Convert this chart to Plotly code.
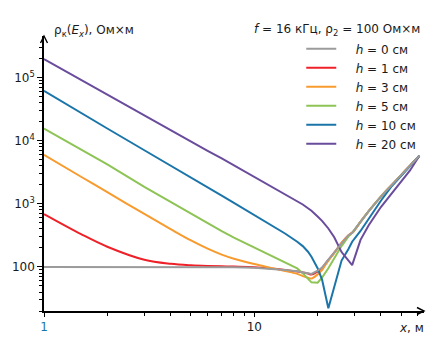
import plotly.graph_objects as go

# distance x, m
x_m = [1, 1.5, 2, 3, 4, 5, 6, 7, 8, 10, 12, 14, 16, 17, 18, 18.7, 20, 21, 22.5,
       24, 26, 28, 29.2, 32, 35, 40, 45, 50, 55, 61]

# apparent resistivity, Ohm*m
rho_h0 = [100, 100, 100, 100, 100, 100, 100, 99.5, 98.9, 96.6, 93.3, 89.1, 85.1, 82.2,
          79.4, 77.6, 87.1, 97.7, 130, 168, 240, 316, 347, 519, 769, 1306, 1986, 2877,
          4046, 5800]
rho_h1 = [687, 331, 209, 130, 112, 106, 103.5, 102.3, 101.2, 98.9, 94.4, 89.5, 84.7,
          81.7, 78.5, 75.9, 84.1, 96.6, 129, 168, 240, 316, 347, 519, 769, 1306, 1986,
          2877, 4046, 5800]
rho_h3 = [6000, 2692, 1531, 692, 398, 263, 195, 157, 135, 111, 96.6, 86.1, 77.6, 71.6,
          67.6, 65.5, 75.9, 89.1, 126, 166, 240, 316, 347, 519, 769, 1306, 1986, 2877,
          4046, 5800]
rho_h5 = [15670, 7261, 4227, 1862, 1074, 692, 489, 370, 292, 204, 154, 120, 94.6, 79.4,
          66.1, 56.9, 56.2, 67.6, 95.5, 138, 214, 302, 347, 519, 769, 1306, 1986, 2877,
          4046, 5800]
rho_h10 = [62230, 27540, 15670, 7079, 4074, 2630, 1841, 1349, 1035, 661, 457, 339, 251,
           214, 174, 145, 95.5, 63.1, 22.1, 50.1, 126, 191, 251, 372, 589, 1122, 1905,
           2818, 4046, 5800]
rho_h20 = [198000, 92260, 53700, 25120, 14790, 9772, 6918, 5248, 4074, 2692, 1928, 1445,
           1096, 977, 851, 776, 631, 537, 407, 295, 172, 126, 107, 269, 457, 891, 1445,
           2239, 3388, 5800]

series_names = ["<i>h</i> = 0 см", "<i>h</i> = 1 см", "<i>h</i> = 3 см",
                "<i>h</i> = 5 см", "<i>h</i> = 10 см", "<i>h</i> = 20 см"]
series_vals = [rho_h0, rho_h1, rho_h3, rho_h5, rho_h10, rho_h20]
colors = ["#9b9b9b", "#ee2129", "#f89b2e", "#8dc455", "#1b75a9", "#6a4c9c"]
shapes_ = ["linear", "spline", "spline", "linear", "linear", "linear"]

x_tickvals = [1, 10]
x_ticktext = ["<span style='color:#1b75a9'>1</span>", "10"]
y_tickvals = [100, 1000, 10000, 100000]
y_ticktext = ["100", "10<sup>3</sup>", "10<sup>4</sup>", "10<sup>5</sup>"]

FONT = "DejaVu Sans, Verdana, sans-serif"
TXT = "#1a1a1a"

fig = go.Figure()
draw_order = [1, 2, 3, 4, 5, 0]
for i in draw_order:
    fig.add_trace(go.Scatter(
        x=x_m, y=series_vals[i], mode="lines", name="\u2003\u2009" + series_names[i],
        line=dict(color=colors[i], width=2, shape=shapes_[i], smoothing=1.0),
        legendrank=i + 1,
    ))

x_minor = [m * d for d in (1, 10) for m in range(2, 10) if m * d <= 60]
y_minor = [m * d for d in (10, 100, 1000, 10000, 100000) for m in range(2, 10)
           if 20 <= m * d <= 300000]

fig.update_layout(
    width=444, height=346,
    margin=dict(l=34, r=20, t=36, b=35),
    paper_bgcolor="white", plot_bgcolor="white",
    font=dict(family=FONT, size=12, color=TXT),
    showlegend=True,
    legend=dict(x=0.677, y=1.006, xanchor="left", yanchor="top",
                bgcolor="rgba(0,0,0,0)", font=dict(family=FONT, size=12, color=TXT),
                itemwidth=30, tracegroupgap=0),
    xaxis=dict(type="log", range=[0, 1.807], showline=True, linecolor="black",
               linewidth=1.6, mirror=False, showgrid=False, zeroline=False,
               ticks="outside", ticklen=4, tickwidth=1.3, tickcolor="black",
               tickmode="array", tickvals=x_tickvals, ticktext=x_ticktext,
               tickfont=dict(family=FONT, size=12, color=TXT),
               minor=dict(tickmode="array", tickvals=x_minor, ticks="outside",
                          ticklen=3, tickwidth=1, tickcolor="black", showgrid=False)),
    yaxis=dict(type="log", range=[1.301, 5.662], showline=True, linecolor="black",
               linewidth=1.6, showgrid=False, zeroline=False,
               ticks="outside", ticklen=5, tickwidth=1.3, tickcolor="black",
               tickmode="array", tickvals=y_tickvals, ticktext=y_ticktext,
               tickfont=dict(family=FONT, size=12, color=TXT),
               minor=dict(tickmode="array", tickvals=y_minor, ticks="outside",
                          ticklen=3, tickwidth=1, tickcolor="black", showgrid=False)),
)

# axis arrow heads
fig.add_shape(type="path", xref="paper", yref="paper", xsizemode="pixel",
              ysizemode="pixel", xanchor=0, yanchor=1,
              path="M-3.5,-7 L0,0 L3.5,-7", line=dict(color="black", width=1.4))
fig.add_shape(type="path", xref="paper", yref="paper", xsizemode="pixel",
              ysizemode="pixel", xanchor=1, yanchor=0,
              path="M-7,3.5 L0,0 L-7,-3.5", line=dict(color="black", width=1.4))

fig.add_annotation(xref="paper", yref="paper", x=0.0205, y=1.017, xanchor="left",
                   yanchor="middle", showarrow=False,
                   text="ρ<sub>к</sub>(<i>E<sub>x</sub></i>), Ом×м",
                   font=dict(family=FONT, size=12, color=TXT))
fig.add_annotation(xref="paper", yref="paper", x=0.9949, y=1.020, xanchor="right",
                   yanchor="middle", showarrow=False,
                   text="<i>f</i> = 16 кГц, ρ<sub>2</sub> = 100 Ом×м",
                   font=dict(family=FONT, size=12, color=TXT))
fig.add_annotation(xref="paper", yref="paper", x=1.0051, y=-0.0618, xanchor="right",
                   yanchor="middle", showarrow=False, text="<i>x</i>, м",
                   font=dict(family=FONT, size=12, color=TXT))

fig.write_html("out.html")
